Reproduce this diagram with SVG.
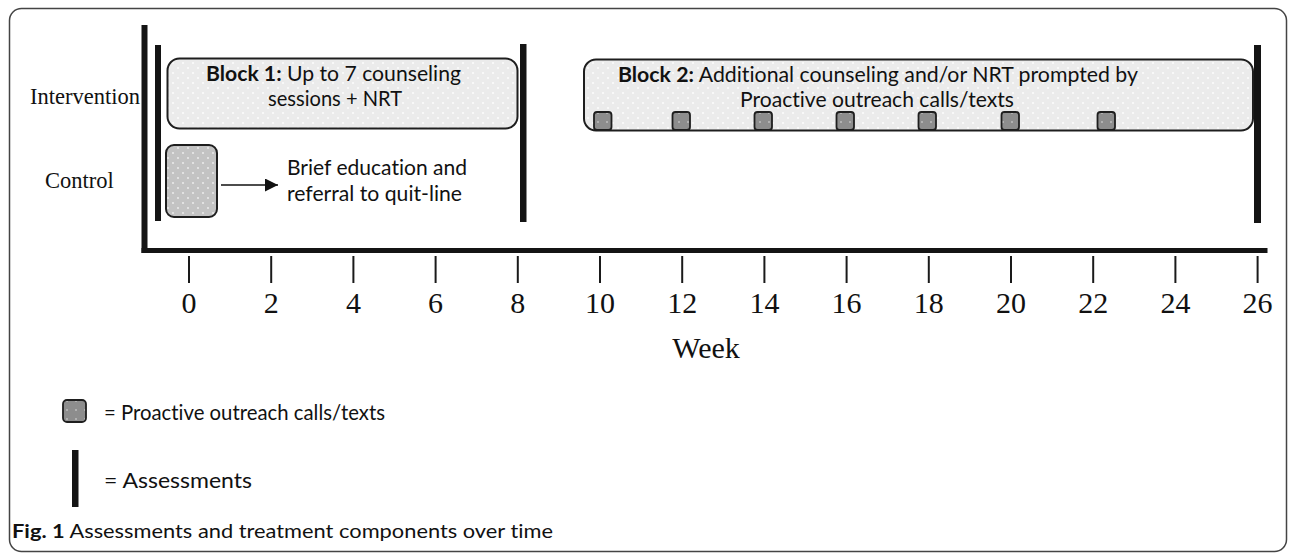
<svg xmlns="http://www.w3.org/2000/svg" width="1292" height="553" viewBox="0 0 1292 553">
<style>
.serif{font-family:"Liberation Serif","Times New Roman",serif;fill:#111}
.sans{font-family:Lato,"Open Sans",sans-serif;fill:#111;font-variant-ligatures:none}
.bar{fill:#141414}
.tick{stroke:#1a1a1a;stroke-width:2}
.blk{fill:url(#dotsLight);stroke:#1e1e1e;stroke-width:2}
.sq{fill:url(#dotsDark);stroke:#1e1e1e;stroke-width:1.8}
</style>
<defs>
<pattern id="dotsLight" width="10" height="10" patternUnits="userSpaceOnUse">
<rect width="10" height="10" fill="#ebebeb"/>
<circle cx="3" cy="3" r="0.9" fill="#ffffff"/>
<circle cx="8" cy="8" r="0.9" fill="#ffffff"/>
</pattern>
<pattern id="dotsMid" width="10" height="10" patternUnits="userSpaceOnUse">
<rect width="10" height="10" fill="#c3c3c3"/>
<circle cx="3" cy="3" r="0.9" fill="#f0f0f0"/>
<circle cx="8" cy="8" r="0.9" fill="#f0f0f0"/>
</pattern>
<pattern id="dotsDark" width="9" height="9" patternUnits="userSpaceOnUse">
<rect width="9" height="9" fill="#8d8d8d"/>
<circle cx="4" cy="5" r="0.8" fill="#e0e0e0"/>
</pattern>
<marker id="arrow" markerWidth="14" markerHeight="13" refX="13" refY="6.5" orient="auto" markerUnits="userSpaceOnUse">
<path d="M0,0 L13,6.5 L0,13 Z" fill="#111"/>
</marker>
</defs>

<g id="frame">
<rect x="9.5" y="8.5" width="1277" height="543" rx="12" fill="#ffffff" stroke="#444" stroke-width="1.5"/>
</g>

<g id="axes">
<rect class="bar" x="141.5" y="25" width="6" height="228"/>
<rect class="bar" x="141.5" y="248" width="1126" height="5"/>
<line class="tick" x1="189" y1="256" x2="189" y2="283"/>
<line class="tick" x1="271.2" y1="256" x2="271.2" y2="283"/>
<line class="tick" x1="353.4" y1="256" x2="353.4" y2="283"/>
<line class="tick" x1="435.6" y1="256" x2="435.6" y2="283"/>
<line class="tick" x1="517.8" y1="256" x2="517.8" y2="283"/>
<line class="tick" x1="600" y1="256" x2="600" y2="283"/>
<line class="tick" x1="682.2" y1="256" x2="682.2" y2="283"/>
<line class="tick" x1="764.4" y1="256" x2="764.4" y2="283"/>
<line class="tick" x1="846.6" y1="256" x2="846.6" y2="283"/>
<line class="tick" x1="928.8" y1="256" x2="928.8" y2="283"/>
<line class="tick" x1="1011" y1="256" x2="1011" y2="283"/>
<line class="tick" x1="1093.2" y1="256" x2="1093.2" y2="283"/>
<line class="tick" x1="1175.4" y1="256" x2="1175.4" y2="283"/>
<line class="tick" x1="1257.6" y1="256" x2="1257.6" y2="283"/>
<g class="serif" font-size="30" text-anchor="middle">
<text x="189" y="313">0</text>
<text x="271.2" y="313">2</text>
<text x="353.4" y="313">4</text>
<text x="435.6" y="313">6</text>
<text x="517.8" y="313">8</text>
<text x="600" y="313">10</text>
<text x="682.2" y="313">12</text>
<text x="764.4" y="313">14</text>
<text x="846.6" y="313">16</text>
<text x="928.8" y="313">18</text>
<text x="1011" y="313">20</text>
<text x="1093.2" y="313">22</text>
<text x="1175.4" y="313">24</text>
<text x="1257.6" y="313">26</text>
</g>
<text class="serif" x="706" y="358" font-size="30" text-anchor="middle">Week</text>
</g>

<g id="row-labels" class="serif" font-size="22.5">
<text x="30" y="104">Intervention</text>
<text x="45" y="188">Control</text>
</g>

<g id="assessments">
<rect class="bar" x="155" y="45" width="6" height="176"/>
<rect class="bar" x="520" y="44" width="6.5" height="178"/>
<rect class="bar" x="1254" y="45" width="7" height="178"/>
</g>

<g id="block1">
<rect class="blk" x="167.5" y="58.5" width="350" height="70" rx="12"/>
<text class="sans" x="333.5" y="81" font-size="21" text-anchor="middle" textLength="255" lengthAdjust="spacingAndGlyphs"><tspan font-weight="bold">Block 1:</tspan> Up to 7 counseling</text>
<text class="sans" x="335" y="106" font-size="21" text-anchor="middle" textLength="134" lengthAdjust="spacingAndGlyphs">sessions + NRT</text>
</g>

<g id="block2">
<rect class="blk" x="584" y="59.5" width="669" height="71" rx="12"/>
<text class="sans" x="878" y="82" font-size="21" text-anchor="middle" textLength="520" lengthAdjust="spacingAndGlyphs"><tspan font-weight="bold">Block 2:</tspan> Additional counseling and/or NRT prompted by</text>
<text class="sans" x="877" y="107" font-size="21" text-anchor="middle" textLength="274" lengthAdjust="spacingAndGlyphs">Proactive outreach calls/texts</text>
<rect class="sq" x="594" y="112" width="17.5" height="18" rx="3"/>
<rect class="sq" x="672.5" y="112" width="17.5" height="18" rx="3"/>
<rect class="sq" x="754.5" y="112" width="17.5" height="18" rx="3"/>
<rect class="sq" x="836.5" y="112" width="17.5" height="18" rx="3"/>
<rect class="sq" x="918.5" y="112" width="17.5" height="18" rx="3"/>
<rect class="sq" x="1001.5" y="112" width="17.5" height="18" rx="3"/>
<rect class="sq" x="1097.5" y="112" width="17.5" height="18" rx="3"/>
</g>

<g id="control">
<rect x="166" y="145" width="51" height="72" rx="8" fill="url(#dotsMid)" stroke="#1e1e1e" stroke-width="2"/>
</g>

<g id="control-text">
<text class="sans" x="287" y="175" font-size="21.5" textLength="180" lengthAdjust="spacingAndGlyphs">Brief education and</text>
<text class="sans" x="287" y="201" font-size="21.5" textLength="175" lengthAdjust="spacingAndGlyphs">referral to quit-line</text>
</g>

<g id="connectors">
<line x1="221" y1="185" x2="278" y2="185" stroke="#111" stroke-width="1.5" marker-end="url(#arrow)"/>
</g>

<g id="legend">
<rect class="sq" x="63" y="400" width="23" height="22" rx="4"/>
<text class="sans" x="104" y="420" font-size="22" textLength="281" lengthAdjust="spacingAndGlyphs">= Proactive outreach calls/texts</text>
<rect class="bar" x="72" y="450" width="6.5" height="57"/>
<text class="sans" x="104" y="488" font-size="22" textLength="148" lengthAdjust="spacingAndGlyphs">= Assessments</text>
</g>

<g id="caption">
<text class="sans" x="12" y="538" font-size="19" fill="#222" textLength="541" lengthAdjust="spacingAndGlyphs"><tspan font-weight="bold">Fig. 1</tspan> Assessments and treatment components over time</text>
</g>
</svg>
